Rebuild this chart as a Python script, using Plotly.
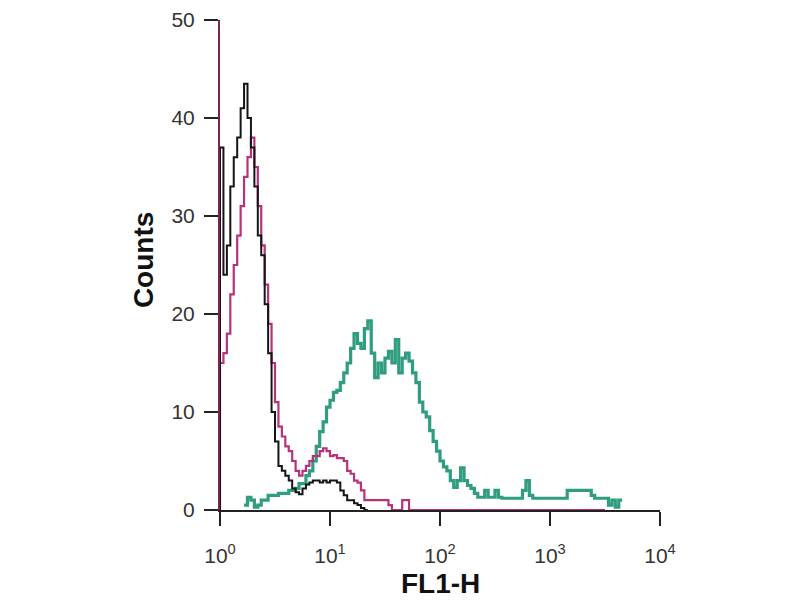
import plotly.graph_objects as go

# Histogram channels (256 channels over 4 decades -> 64 channels / decade)
CH_PER_DECADE = 64

black_ch = list(range(0, 88, 2))
black_counts = [37, 24, 27, 33, 36, 38, 41, 43.5, 40, 37, 33, 28, 26, 21, 16, 10,
                7, 4.5, 4, 3.5, 3, 2.2, 1.8, 1.6, 2.2, 2.6, 2.8, 3, 3, 2.8, 3,
                2.8, 3, 3, 2.8, 2, 1.5, 1, 1, 0.7, 0.5, 0.2, 0, 0]

magenta_ch = list(range(0, 112, 2)) + [224]
magenta_counts = [15, 16, 18, 22, 25, 28, 31, 34, 36, 38, 35, 31, 27, 23, 19, 15,
                  11, 8.5, 7.5, 6.5, 6, 5, 4, 3.5, 4, 4.5, 5, 5.5, 5.5, 6, 6.3, 6,
                  5.5, 5.6, 5.3, 5.3, 5, 4, 3.7, 3, 2.8, 2, 1, 1, 1, 1, 1, 1, 1,
                  0.5, 0, 0, 0, 1, 1, 0, 0]

teal_ch = list(range(14, 236, 2))
teal_counts = [0.5, 1.3, 1, 0.3, 0.5, 1, 1, 1.5, 1.5, 1.5, 1.7, 1.7, 1.7, 2, 2,
               2.2, 2.7, 2.7, 3.5, 4, 5, 6.5, 8, 9, 10.5, 11.2, 12, 12.2, 13, 14,
               15, 16.5, 18, 17, 16.5, 18.5, 19.3, 16, 13.5, 15, 14, 15.5, 16.2,
               15, 17.4, 14, 15.5, 16, 15.2, 14, 13, 11, 10, 9.5, 8.1, 7, 6, 5,
               4.4, 4, 3, 2.3, 3, 4.3, 3, 2.5, 2.2, 1.7, 1.3, 1.3, 2, 1.3, 1.3,
               2, 1.3, 1.2, 1.2, 1.2, 1.2, 1.2, 1.2, 2, 3, 1.5, 1.2, 1.2, 1.2,
               1.2, 1.2, 1.2, 1.2, 1.2, 1.2, 1.2, 2, 2, 2, 2, 2, 2, 2, 1.5, 1.2,
               1.2, 1.2, 1.2, 0.5, 1, 0.3, 1, 1, 0]

x_tickvals = [1, 10, 100, 1000, 10000]
x_ticktext = ["10<sup>0</sup>", "10<sup>1</sup>", "10<sup>2</sup>",
              "10<sup>3</sup>", "10<sup>4</sup>"]
y_tickvals = [0, 10, 20, 30, 40, 50]


def to_fl1(chs):
    return [10 ** (c / CH_PER_DECADE) for c in chs]


fig = go.Figure()
fig.add_trace(go.Scatter(x=to_fl1(teal_ch), y=teal_counts, mode="lines",
                         line=dict(color="#2f9d80", width=3.2, shape="hv"),
                         showlegend=False))
fig.add_trace(go.Scatter(x=[1] + to_fl1(magenta_ch), y=[0] + magenta_counts,
                         mode="lines",
                         line=dict(color="#b8327a", width=2.2, shape="hv"),
                         showlegend=False))
fig.add_trace(go.Scatter(x=[1] + to_fl1(black_ch), y=[0] + black_counts,
                         mode="lines",
                         line=dict(color="#151515", width=2, shape="hv"),
                         showlegend=False))

tick_font = dict(family="Liberation Sans, Arial", size=21, color="#333333")
title_font = dict(family="Liberation Sans, Arial", size=28, color="#111111")

# page body has an 8px default margin, so the figure is sized 792x592
fig.update_layout(
    width=792, height=592,
    margin=dict(l=212, r=140, t=12, b=90),
    paper_bgcolor="white", plot_bgcolor="white",
    xaxis=dict(type="log", range=[0, 4], tickvals=x_tickvals,
               ticktext=x_ticktext, ticks="outside", ticklen=14,
               tickwidth=1.5, tickcolor="#222", showline=True,
               linecolor="#222", linewidth=2, showgrid=False, zeroline=False,
               tickfont=tick_font, ticklabelstandoff=12, automargin=False,
               ticklabeloverflow="allow"),
    yaxis=dict(range=[0, 50], tickvals=y_tickvals, ticks="outside",
               ticklen=14, tickwidth=1.5, tickcolor="#222", showline=True,
               linecolor="#7a2550", linewidth=2, showgrid=False,
               zeroline=False, tickfont=tick_font, ticklabelstandoff=5,
               automargin=False, ticklabeloverflow="allow"),
    annotations=[
        dict(text="<b>FL1-H</b>", font=title_font, xref="paper", yref="paper",
             x=0.5, y=-0.15, xanchor="center", yanchor="middle",
             showarrow=False),
        dict(text="<b>Counts</b>", font=title_font, xref="paper", yref="paper",
             x=-0.175, y=0.51, xanchor="center", yanchor="middle",
             textangle=-90, showarrow=False),
    ],
)

fig.write_html("out.html")
